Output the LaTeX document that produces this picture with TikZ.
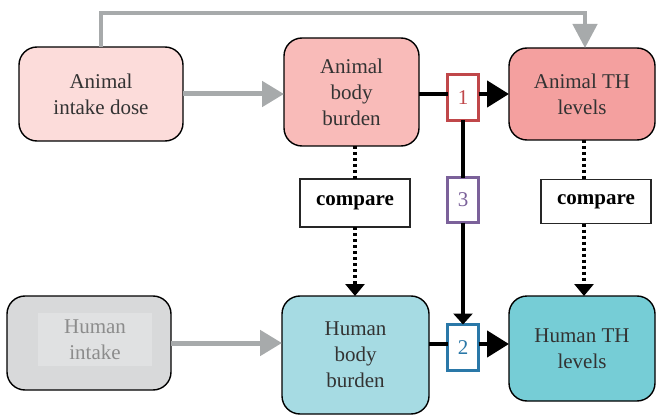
\documentclass[tikz,border=0pt]{standalone}
\usepackage{fontspec}
\setmainfont{Liberation Serif}
\usetikzlibrary{arrows.meta}
\definecolor{txt}{HTML}{333333}
\definecolor{pinkA}{HTML}{FCDCDA}
\definecolor{pinkB}{HTML}{F9BBB9}
\definecolor{pinkC}{HTML}{F4A09F}
\definecolor{greyH}{HTML}{D8D9DA}
\definecolor{greyI}{HTML}{E0E1E2}
\definecolor{greyT}{HTML}{8C8C8C}
\definecolor{cyanB}{HTML}{A6DBE3}
\definecolor{cyanC}{HTML}{76CDD6}
\definecolor{arrg}{HTML}{A7AAAB}
\definecolor{cred}{HTML}{C0474A}
\definecolor{cpur}{HTML}{7B619A}
\definecolor{cblu}{HTML}{2A78A8}
\tikzset{
  box/.style={draw=black, line width=1.4pt, rounded corners=18pt, inner sep=0pt, outer sep=0pt,
    align=center, text=txt, font=\fontsize{21}{26}\selectfont},
  cmpbox/.style={draw=black!85, line width=1.2pt, fill=white, inner sep=0pt, outer sep=0pt,
    minimum width=110pt, font=\fontsize{21}{26}\selectfont\bfseries},
  numbox/.style={line width=3pt, fill=white, inner sep=0pt, outer sep=0pt,
    minimum width=31pt, font=\fontsize{21}{26}\selectfont},
  greyarrow/.style={draw=arrg, line width=5pt, -{Triangle[length=22pt,width=25pt]}},
  bigarrow/.style={draw=black, line width=4.5pt, -{Triangle[length=22pt,width=26pt]}},
  vline/.style={draw=black, line width=3.5pt},
  dotline/.style={draw=black, line width=3.8pt, dash pattern=on 3pt off 3pt},
}
\begin{document}
\begin{tikzpicture}[x=1pt,y=-1pt]
\useasboundingbox (0,0) rectangle (656,417);
% main boxes
\node[box, fill=pinkA, minimum width=164pt, minimum height=94pt] (aid) at (101,94) {Animal\\intake dose};
\node[box, fill=pinkB, minimum width=135pt, minimum height=108pt] (abb) at (351.5,92) {Animal\\body\\burden};
\node[box, fill=pinkC, minimum width=146pt, minimum height=92pt] (ath) at (582,94) {Animal TH\\levels};
\node[box, fill=greyH, minimum width=164pt, minimum height=94pt] (hin) at (89,343) {};
\node[fill=greyI, inner sep=0pt, minimum width=114pt, minimum height=53pt, align=center,
  text=greyT, font=\fontsize{21}{26}\selectfont] (hint) at (95,339.5) {Human\\intake};
\node[box, fill=cyanB, minimum width=147pt, minimum height=118pt] (hbb) at (355.5,355) {Human\\body\\burden};
\node[box, fill=cyanC, minimum width=146pt, minimum height=105pt] (hth) at (582,348.5) {Human TH\\levels};
% compare boxes
\node[cmpbox, minimum height=48pt] (cl) at (355,203) {compare};
\node[cmpbox, minimum height=44pt] (cr) at (596,201.5) {compare};
% numbered boxes
\node[numbox, draw=cred, text=cred, minimum height=46pt] (b1) at (463,97.5) {1};
\node[numbox, draw=cpur, text=cpur, minimum height=45pt] (b3) at (463,200) {3};
\node[numbox, draw=cblu, text=cblu, minimum height=46pt] (b2) at (463,347.5) {2};
% grey arrows
\draw[greyarrow] (aid.east |- 0,94) -- (abb.west |- 0,94);
\draw[greyarrow] (hin.east |- 0,343) -- (hbb.west |- 0,343);
\coordinate (t1) at (101,13);
\coordinate (t2) at (585,13);
\draw[draw=arrg, line width=4.5pt, -{Triangle[length=24pt,width=24pt]}, line join=miter]
  (aid.north -| t1) -- (t1) -- (t2) -- (ath.north -| t2);
% black arrows
\draw[draw=black, line width=4.5pt] (abb.east |- 0,94) -- (b1.west |- 0,94);
\draw[bigarrow] (b1.east |- 0,94) -- (ath.west |- 0,94);
\draw[draw=black, line width=4.5pt] (hbb.east |- 0,344) -- (b2.west |- 0,344);
\draw[bigarrow] (b2.east |- 0,344) -- (hth.west |- 0,344);
\draw[vline] (b1.south) -- (b3.north);
\draw[vline, -{Triangle[length=11pt,width=19pt]}] (b3.south) -- (b2.north);
% dotted compare arrows
\draw[dotline] (abb.south -| cl) -- (cl.north);
\draw[dotline, -{Triangle[length=12pt,width=19pt]}] (cl.south) -- (hbb.north -| cl);
\draw[dotline] (ath.south -| 584,0) -- (cr.north -| 584,0);
\draw[dotline, -{Triangle[length=12pt,width=19pt]}] (cr.south -| 584,0) -- (hth.north -| 584,0);
\end{tikzpicture}
\end{document}
